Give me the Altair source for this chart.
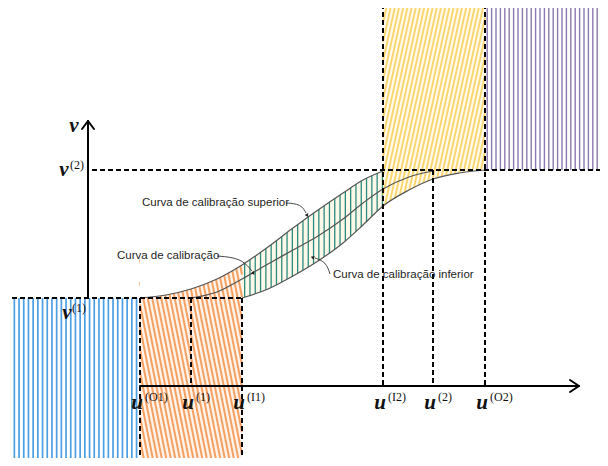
import altair as alt
import numpy as np
import pandas as pd

# ---------------- data (u = horizontal position, v = row from top) ----------------
u_ticks = [140, 191, 242, 383, 433, 485]
u_sups = ["(O1)", "(1)", "(I1)", "(I2)", "(2)", "(O2)"]
v_one, v_two = 298, 170
axis_row = 386
axis_col = 88

# calibration curves
upper_u = [140, 166, 191, 217, 242, 268, 293, 318, 343, 363, 383]
upper_v = [298, 295, 289, 279, 265, 247, 228, 210, 193, 180, 171]
middle_u = [191, 217, 242, 268, 293, 318, 343, 363, 383, 409, 433]
middle_v = [298, 292, 279, 264, 250, 236, 219, 203, 189, 177, 171]
lower_u = [242, 268, 293, 318, 343, 363, 383, 409, 433, 459, 485]
lower_v = [298, 289, 276, 261, 243, 225, 206, 190, 179, 173, 170]

# regions: (u0, u1, v_top, v_bottom)
blue_box = (12, 140, 298, 462)
orange_box = (140, 242, 250, 462)
green_box = (242, 383, 168, 300)
yellow_box = (383, 485, 4, 215)
purple_box = (485, 608, 4, 170)

# annotation texts
notes = ["Curva de calibração superior", "Curva de calibração", "Curva de calibração inferior"]
notes_u = [142, 117, 333]
notes_v = [203, 256, 275]

# ---------------- helpers ----------------
X = lambda f="x": alt.X(f"{f}:Q", scale=alt.Scale(domain=[8, 600], nice=False, zero=False), axis=None)
Y = lambda f="y": alt.Y(f"{f}:Q", scale=alt.Scale(domain=[8, 458], nice=False, zero=False, reverse=True), axis=None)


def vhatch(box, step):
    u0, u1, t, b = box
    xs = np.arange(u0 + step / 2, u1, step)
    return pd.DataFrame({"x": xs, "y": t, "y2": b})


def dhatch(box, step, k):
    """slanted hatch: each stripe goes from (c, bottom) to (c + k*H, top), clipped to the box"""
    u0, u1, t, b = box
    H = b - t
    lo = min(u0, u0 - k * H)
    hi = max(u1, u1 - k * H)
    rows = []
    for c in np.arange(lo, hi, step):
        xb, xt = c, c + k * H
        # parametric clip in s (0 at bottom, 1 at top)
        s0, s1 = 0.0, 1.0
        dx = xt - xb
        for edge, sign in ((u0, 1), (u1, -1)):
            # need sign*(x - edge) >= 0
            if dx == 0:
                if sign * (xb - edge) < 0:
                    s0, s1 = 1, 0
                continue
            s = (edge - xb) / dx
            if sign * dx > 0:
                s0 = max(s0, s)
            else:
                s1 = min(s1, s)
        if s1 - s0 > 0.01:
            rows.append({"x": xb + s0 * dx, "y": b - s0 * H, "x2": xb + s1 * dx, "y2": b - s1 * H})
    return pd.DataFrame(rows)


def vrules(df, color, width):
    return alt.Chart(df).mark_rule(color=color, strokeWidth=width).encode(
        x=X(), y=Y(), y2="y2:Q")


def drules(df, color, width):
    return alt.Chart(df).mark_rule(color=color, strokeWidth=width).encode(
        x=X(), y=Y(), x2="x2:Q", y2="y2:Q")


def rect(box, color):
    u0, u1, t, b = box
    df = pd.DataFrame({"x": [u0], "x2": [u1], "y": [t], "y2": [b]})
    return alt.Chart(df).mark_rect(color=color).encode(x=X(), x2="x2:Q", y=Y(), y2="y2:Q")


layers = []
# tinted backgrounds
layers.append(rect(orange_box, "#fff4ec"))
layers.append(rect(green_box, "#fdf9ea"))
layers.append(rect(yellow_box, "#fffaea"))
# hatching
layers.append(vrules(vhatch(blue_box, 4.7), "#4d9fe3", 1.7))
layers.append(drules(dhatch(orange_box, 4.5, -0.2), "#f6a162", 2.0))
layers.append(vrules(vhatch(green_box, 5.3), "#2b8b7e", 1.3))
layers.append(drules(dhatch(yellow_box, 4.2, 0.22), "#fbd46c", 1.8))
layers.append(vrules(vhatch(purple_box, 4.4), "#8a78b2", 1.4))

# white masks outside the curved boundaries
up_df = pd.DataFrame({"x": upper_u, "y": upper_v, "y2": 166})
lo_df = pd.DataFrame({"x": lower_u, "y": lower_v, "y2": 302})
mid_df = pd.DataFrame({"x": middle_u, "y": middle_v})
for df in (up_df, lo_df):
    layers.append(alt.Chart(df).mark_area(color="white", opacity=1, interpolate="monotone").encode(
        x=X(), y=Y(), y2="y2:Q"))
for df in (up_df, mid_df, lo_df):
    layers.append(alt.Chart(df).mark_line(color="#555555", strokeWidth=1.2, interpolate="monotone").encode(
        x=X(), y=Y()))

# dashed guide lines
h_dash = pd.DataFrame({"x": [92, 12], "x2": [608, 242], "y": [v_two, v_one]})
v_dash = pd.DataFrame({
    "x": u_ticks,
    "y": [v_one, v_one, v_one, 4, v_two, 4],
    "y2": [462, axis_row, 462, axis_row, axis_row, axis_row],
})
layers.append(alt.Chart(h_dash).mark_rule(color="black", strokeWidth=2, strokeDash=[5, 3]).encode(
    x=X(), x2="x2:Q", y=Y()))
layers.append(alt.Chart(v_dash).mark_rule(color="black", strokeWidth=2, strokeDash=[5, 3]).encode(
    x=X(), y=Y(), y2="y2:Q"))

# axes with arrow heads
axes = pd.DataFrame({
    "x": [axis_col, 140, axis_col, axis_col, 579, 579],
    "y": [v_one, axis_row, 121, 121, axis_row, axis_row],
    "x2": [axis_col, 579, 82, 94, 570, 570],
    "y2": [121, axis_row, 129, 129, 380, 392],
})
layers.append(alt.Chart(axes).mark_rule(color="black", strokeWidth=2, strokeCap="round").encode(
    x=X(), y=Y(), x2="x2:Q", y2="y2:Q"))

# leader lines to the curves
leaders = pd.DataFrame({
    "g": [0, 0, 0, 1, 1, 1, 2, 2, 2],
    "o": [0, 1, 2, 0, 1, 2, 0, 1, 2],
    "x": [286, 301, 306, 217, 241, 252, 330, 326, 315],
    "y": [203, 204, 213, 256, 258, 271, 274, 262, 258],
})
layers.append(alt.Chart(leaders).mark_line(color="#333333", strokeWidth=0.9, interpolate="basis").encode(
    x=X(), y=Y(), detail="g:N", order="o:Q"))
heads = pd.DataFrame({"x": [307, 253, 313], "y": [215, 273, 257.5], "a": [153, 139, 290]})
layers.append(alt.Chart(heads).mark_point(shape="triangle", filled=True, color="#222222", size=16, opacity=1).encode(
    x=X(), y=Y(), angle=alt.Angle("a:Q", scale=None)))

# annotation text
ann = pd.DataFrame({"x": notes_u, "y": notes_v, "t": notes})
layers.append(alt.Chart(ann).mark_text(align="left", baseline="middle", font="Liberation Sans", fontSize=11.5,
                                       color="#1e1e1e").encode(x=X(), y=Y(), text="t:N"))

# math labels
math_main = pd.DataFrame({
    "x": [u - 3 for u in u_ticks] + [74, 64, 67],
    "y": [409] * 6 + [132, 176, 319],
    "t": ["u"] * 6 + ["v", "v", "v"],
})
math_sup = pd.DataFrame({
    "x": [u + 5 for u in u_ticks] + [70, 72],
    "y": [401] * 6 + [169, 312],
    "t": u_sups + ["(2)", "(1)"],
})
layers.append(alt.Chart(math_main).mark_text(align="center", baseline="alphabetic", font="Liberation Serif",
                                             fontSize=21, fontStyle="italic", fontWeight="bold",
                                             color="#111111").encode(x=X(), y=Y(), text="t:N"))
layers.append(alt.Chart(math_sup).mark_text(align="left", baseline="alphabetic", font="Liberation Serif",
                                            fontSize=12, color="#111111").encode(x=X(), y=Y(), text="t:N"))

chart = alt.layer(*layers).properties(
    width=592, height=450, padding=0,
    autosize=alt.AutoSizeParams(type="none"),
    background="white",
).configure_view(stroke=None)

chart.save("out.html", embed_options={"renderer": "svg", "actions": False})
